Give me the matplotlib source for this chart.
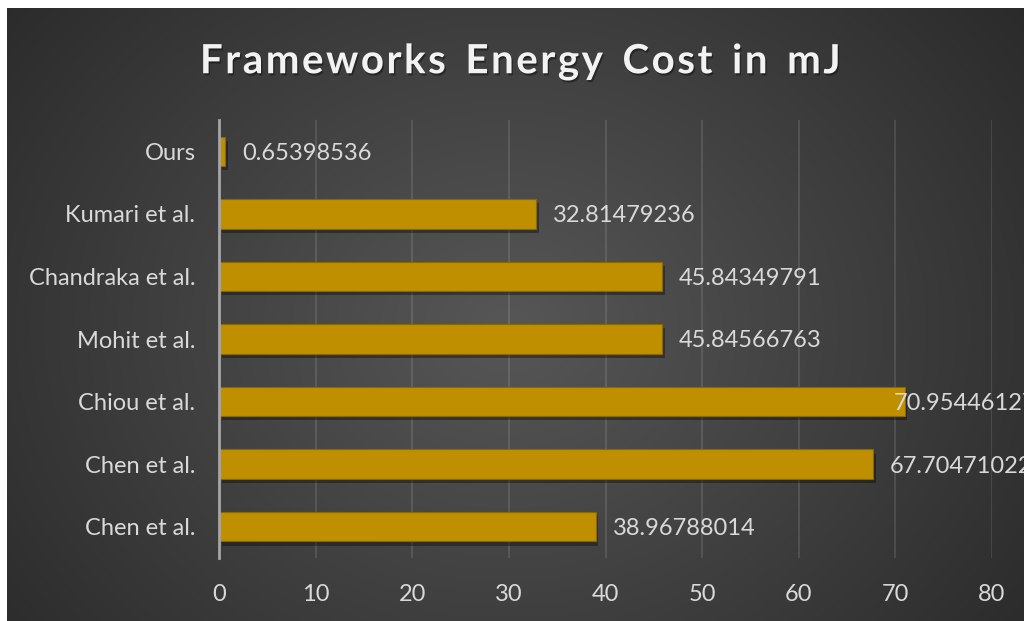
import numpy as np
import matplotlib
matplotlib.use("Agg")
import matplotlib.pyplot as plt
import matplotlib.patheffects as pe

# data, top to bottom as in the chart
frameworks = ["Ours", "Kumari et al.", "Chandraka et al.", "Mohit et al.",
              "Chiou et al.", "Chen et al.", "Chen et al."]
energy_mj = [0.65398536, 32.81479236, 45.84349791, 45.84566763,
             70.95446127, 67.70471022, 38.96788014]
value_labels = ["0.65398536", "32.81479236", "45.84349791", "45.84566763",
                "70.95446127", "67.70471022", "38.96788014"]
xticks = [0, 10, 20, 30, 40, 50, 60, 70, 80]

W, H = 1024, 621
fig = plt.figure(figsize=(W / 100, H / 100), dpi=100)
fig.patch.set_facecolor("white")

# dark radial gradient background (chart area inside a thin white frame)
bg = fig.add_axes([7 / W, 0, 1 - 7 / W, 1 - 8 / H])
yy, xx = np.mgrid[0:613, 0:1017]
cx, cy = 500, 320
r = np.sqrt(((xx - cx) / 620.0) ** 2 + ((yy - cy) / 520.0) ** 2)
shade = 0.34 - 0.20 * np.clip(r, 0, 1.2) / 1.2
bg.imshow(np.dstack([shade, shade, shade]), aspect="auto", interpolation="bilinear")
bg.set_axis_off()

ax = fig.add_axes([219 / W, 1 - 558 / H, (992 - 219) / W, (558 - 120) / H])
ax.set_facecolor("none")

ypos = np.arange(len(frameworks))
bars = ax.barh(ypos, energy_mj, height=0.47, color="#BF8F00",
               edgecolor="#8a6800", linewidth=0.8, zorder=3)
for b in bars:
    b.set_path_effects([pe.SimplePatchShadow(offset=(2, -3), shadow_rgbFace="black", alpha=0.35),
                        pe.Normal()])

# labels sit just past the bar end, pulled back where they would run off the chart
# (the original chart also cuts the two longest ones at its right edge)
for y, v, s in zip(ypos, energy_mj, value_labels):
    xl = min(v + 1.75, 69.8)
    ax.text(xl, y + 0.03, s, va="center", ha="left", fontsize=17, color="#D9D9D9",
            family="Lato", zorder=4, clip_on=False)

ax.set_xlim(0, 80)
ax.set_ylim(6.5, -0.5)
ax.set_yticks(ypos)
ax.set_yticklabels(frameworks, fontsize=17, color="#D9D9D9", family="Lato")
ax.set_xticks(xticks)
ax.set_xticklabels([str(t) for t in xticks], fontsize=17, color="#D9D9D9", family="Lato")
ax.tick_params(axis="both", length=0)
ax.tick_params(axis="y", pad=17)
ax.tick_params(axis="x", pad=19)

ax.grid(axis="x", color="white", alpha=0.13, linewidth=1.2, zorder=0)
for side in ["top", "right", "bottom"]:
    ax.spines[side].set_visible(False)
ax.spines["left"].set_color("#A6A6A6")
ax.spines["left"].set_linewidth(2)
ax.spines["left"].set_zorder(5)

title = "Frameworks Energy Cost in mJ"
spaced = "  ".join("\u200a".join(w) for w in title.split(" "))
fig.text(520 / W, 1 - 62 / H, spaced,
         ha="center", va="center", fontsize=29, fontweight="bold", color="#F2F2F2",
         family="Lato",
         path_effects=[pe.withSimplePatchShadow(offset=(1, -1.5), shadow_rgbFace="black", alpha=0.4)])

fig.savefig("out.png", dpi=100)
